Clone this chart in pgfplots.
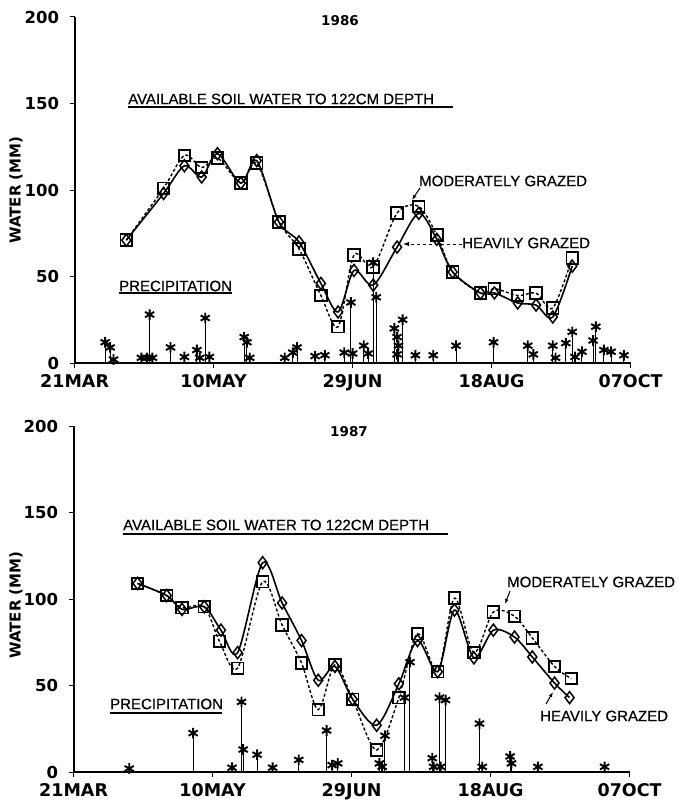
\documentclass[border=0pt]{standalone}
\usepackage{fontspec}
\setmainfont{Liberation Sans}
\newfontfamily\ann{Liberation Sans}[FakeBold=0.5]
\newfontfamily\dvs{DejaVu Sans}
\usepackage{pgfplots}
\usepackage{pgfplotstable}
\pgfplotsset{compat=1.18}
\usetikzlibrary{arrows.meta}

% 1986 soil water (day of year, mm)
\pgfplotstableread{
d v
98.6 71
112 98
119.5 114
125.7 107.5
131.4 121
139.8 104
145.5 117
153.5 81.5
160.7 70
168.6 46
174.8 29.5
180.5 53.5
187.4 45
196 67
203.8 86.5
210.3 71.5
216 52.6
226 40.4
231 40.5
239.4 34.7
246 33.5
252 26.6
259 56
}\heavyA
\pgfplotstableread{
d v
98.6 71
112 101
119.5 120
125.7 113
131.4 118.5
139.8 104
145.5 115.6
153.5 81.5
160.7 66
168.6 39
174.8 21
180.5 62.4
187.4 55.5
196 86.7
203.8 90.5
210.3 74
216 52.6
226 40.4
231 43
239.4 39
246 40.4
252 31.8
259 60.7
}\modA
\pgfplotstableread{
d v
91 12
92.8 9
94 2
104 3
106 3
107 28
108 3
114.5 9
119.5 3.5
124 7.5
125 3
127 26
128.5 3.5
141 15
142 12
143 3
155.6 3
158.5 6
160 9
166.5 4
170 4.5
177 6
179.4 35
180 5.5
184 10
185.6 5.5
187.4 58
188.5 38
195 20
196 15
196.5 10
196 5
198 25
202.6 4.5
209 4.5
217.2 10
230.7 12
243 10
245 5
252 10
253 3
256.7 11.5
259 18
260 3.5
262.5 6.5
266.5 13
267.5 21
270.4 7.5
273 6.5
277.6 4.5
}\precA

% 1987
\pgfplotstableread{
d v
103 109
113.5 102
119 94
127 95.5
133 82
139 69
148 121
155 97.7
162 76
168 53
174 61
180.4 42
189 27
197 51
203.7 76
211 58
217 93.6
224 66
231 82
238.6 78
245 66.5
253 51.4
258.4 43
}\heavyB
\pgfplotstableread{
d v
103 109
113.5 102
119 95
127 95.5
132.5 75.5
139 60
148 110
155 85
162 63
168 36
174 62
180.4 42
189 12.7
197 43
203.7 80
211 58
217 100.5
224 69
231 92.5
238.6 90
245 77.5
253 61
259 54
}\modB
\pgfplotstableread{
d v
100 2
123 22.5
137 2.5
140.4 40.5
141 13
146 10
151.6 2.5
161 7
171 24
173 4
175 5
190 5
191 3
192 21
199 43
201 63.5
209 8
209.5 3
211.6 43
212 3
213.8 41.6
226 28
227 3
237 9
237.5 5
247 3
271 3
}\precB

\pgfplotsset{
  soil/.style={
    scale only axis, width=556pt, height=346pt,
    anchor=south west,
    xmin=80, xmax=280, ymin=0, ymax=200,
    axis x line=bottom, axis y line=left,
    axis line style={-, line width=1.8pt},
    xtick={80,130,180,230,280},
    xticklabels={21MAR,10MAY,29JUN,18AUG,07OCT},
    ytick={0,50,100,150,200},
    tick align=outside, major tick length=5pt,
    tick style={line width=1pt, black},
    /pgf/number format/assume math mode=true,
    xticklabel style={yshift=-3pt, font=\dvs\bfseries\fontsize{17.5}{18}\selectfont},
    yticklabel style={xshift=-7pt, font=\dvs\bfseries\fontsize{16.5}{17}\selectfont},
    clip=false,
  },
  heavy/.style={black, line width=1.6pt, smooth, tension=0.5},
  moder/.style={black, line width=1.4pt, dash pattern=on 3pt off 2.2pt, smooth, tension=0.5},
  dmark/.style={only marks, mark=diamond, mark size=6pt,
    mark options={solid, line width=1.5pt, fill=white}},
  smark/.style={only marks, mark=square, mark size=5.8pt,
    mark options={solid, line width=1.8pt}},
  prec/.style={ycomb, black, line width=1pt, mark=asterisk, mark size=5.3pt,
    mark options={line width=1.9pt}},
}

\begin{document}
\begin{tikzpicture}[font=\ann\fontsize{15}{16}\selectfont]
\path[use as bounding box] (0,0) rectangle (679pt,-805pt);

% ---- 1986 ----
\begin{axis}[soil, at={(74.6pt,-363pt)}]
\addplot[prec] table[x=d,y=v] {\precA};
\addplot[heavy] table[x=d,y=v] {\heavyA};
\addplot[moder] table[x=d,y=v] {\modA};
\addplot[dmark] table[x=d,y=v] {\heavyA};
\addplot[smark] table[x=d,y=v] {\modA};
\end{axis}
\node[font=\dvs\bfseries\fontsize{13.5}{14}\selectfont] at (340pt,-21pt) {1986};
\node[anchor=west, inner sep=0] at (128pt,-99pt) {AVAILABLE SOIL WATER TO 122CM DEPTH};
\draw[line width=1.2pt] (128pt,-107pt) -- (453pt,-107pt);
\node[anchor=west, inner sep=0] at (119pt,-286pt) {PRECIPITATION};
\draw[line width=1.2pt] (119pt,-293pt) -- (232pt,-293pt);
\node[anchor=west, inner sep=0] at (419pt,-181pt) {MODERATELY GRAZED};
\draw[line width=1pt, -{Latex[length=5pt]}] (420pt,-188pt) -- (412pt,-200pt);
\node[anchor=west, inner sep=0] at (462pt,-243pt) {HEAVILY GRAZED};
\draw[line width=1pt, dashed, -{Latex[length=6pt]}] (462pt,-244pt) -- (403pt,-244pt);
\node[rotate=90, font=\dvs\bfseries\fontsize{15}{16}\selectfont] at (16pt,-190pt) {WATER (MM)};

% ---- 1987 ----
\begin{axis}[soil, at={(73.6pt,-772pt)}]
\addplot[prec] table[x=d,y=v] {\precB};
\addplot[heavy] table[x=d,y=v] {\heavyB};
\addplot[moder] table[x=d,y=v] {\modB};
\addplot[dmark] table[x=d,y=v] {\heavyB};
\addplot[smark] table[x=d,y=v] {\modB};
\end{axis}
\node[font=\dvs\bfseries\fontsize{13.5}{14}\selectfont] at (349pt,-432pt) {1987};
\node[anchor=west, inner sep=0] at (123pt,-525pt) {AVAILABLE SOIL WATER TO 122CM DEPTH};
\draw[line width=1.2pt] (123pt,-534pt) -- (448pt,-534pt);
\node[anchor=west, inner sep=0] at (110pt,-704pt) {PRECIPITATION};
\draw[line width=1.2pt] (110pt,-713pt) -- (222pt,-713pt);
\node[anchor=west, inner sep=0] at (507pt,-582pt) {MODERATELY GRAZED};
\draw[line width=1pt, -{Latex[length=5pt]}] (510pt,-591pt) -- (505pt,-604pt);
\node[anchor=west, inner sep=0] at (540pt,-716pt) {HEAVILY GRAZED};
\draw[line width=1pt, -{Latex[length=5pt]}] (546pt,-704pt) -- (553pt,-692pt);
\node[rotate=90, font=\dvs\bfseries\fontsize{15}{16}\selectfont] at (16pt,-605pt) {WATER (MM)};
\end{tikzpicture}
\end{document}
